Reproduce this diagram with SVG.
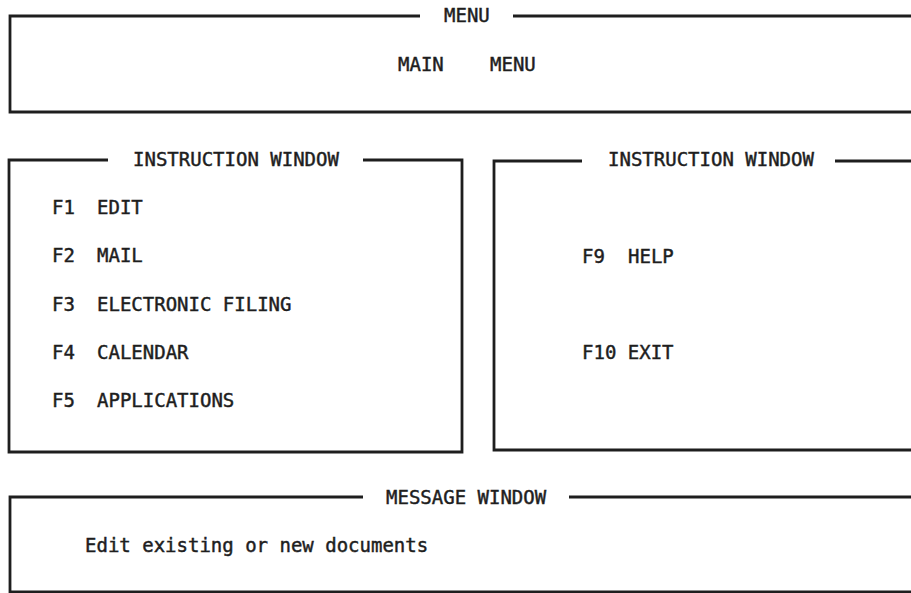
<svg xmlns="http://www.w3.org/2000/svg" width="911" height="593" viewBox="0 0 911 593">
<style>
.frame{fill:none;stroke:#1e1e1e;stroke-width:2.8;stroke-linejoin:miter}
.t{font-family:"DejaVu Sans Mono","Liberation Mono",monospace;font-size:19px;fill:#1e1e1e;stroke:#1e1e1e;stroke-width:0.45}
</style>
<rect width="911" height="593" fill="#ffffff"/>
<g id="menu-window">
<path class="frame" d="M420,16 H10 V112 H915 M513,16 H915"/>
<text class="t" x="444" y="22">MENU</text>
<text class="t" y="71"><tspan x="398">MAIN</tspan> <tspan x="490">MENU</tspan></text>
</g>
<g id="instruction-window-left">
<path class="frame" d="M108,160 H9 V452 H462 V160 H363"/>
<text class="t" x="133" y="166">INSTRUCTION WINDOW</text>
<text class="t" y="214"><tspan x="52">F1</tspan> <tspan x="97">EDIT</tspan></text>
<text class="t" y="262"><tspan x="52">F2</tspan> <tspan x="97">MAIL</tspan></text>
<text class="t" y="311"><tspan x="52">F3</tspan> <tspan x="97">ELECTRONIC FILING</tspan></text>
<text class="t" y="359"><tspan x="52">F4</tspan> <tspan x="97">CALENDAR</tspan></text>
<text class="t" y="407"><tspan x="52">F5</tspan> <tspan x="97">APPLICATIONS</tspan></text>
</g>
<g id="instruction-window-right">
<path class="frame" d="M582,161 H494 V450 H915 M835,161 H915"/>
<text class="t" x="608" y="166">INSTRUCTION WINDOW</text>
<text class="t" y="263"><tspan x="582">F9</tspan> <tspan x="628">HELP</tspan></text>
<text class="t" x="582" y="359">F10 EXIT</text>
</g>
<g id="message-window">
<path class="frame" d="M363,497 H10 V592 H915 M569,497 H915"/>
<text class="t" x="386" y="504">MESSAGE WINDOW</text>
<text class="t" x="85" y="552">Edit existing or new documents</text>
</g>
<g id="connectors"/>
</svg>
